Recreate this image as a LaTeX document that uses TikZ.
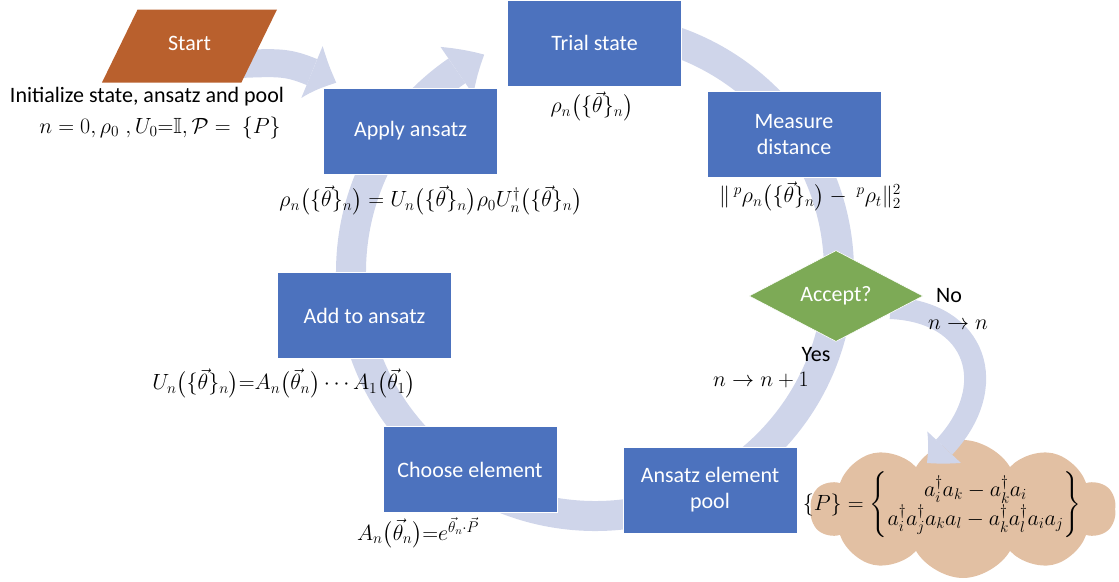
\documentclass[tikz,border=0pt]{standalone}
\usepackage{fix-cm}
\usepackage{amsmath}
\usepackage{amssymb}
\usepackage{fontspec}
\setmainfont{Carlito}
\usetikzlibrary{shapes.geometric,shapes.symbols,arrows.meta,bending,backgrounds}
\definecolor{boxblue}{RGB}{76,114,190}
\definecolor{startorange}{RGB}{185,96,45}
\definecolor{acceptgreen}{RGB}{125,170,86}
\definecolor{ringblue}{RGB}{207,213,234}
\definecolor{cloudtan}{RGB}{226,192,163}
\begin{document}
\begin{tikzpicture}[x=1pt,y=-1pt,
  every node/.style={font=\fontsize{22}{26}\selectfont},
  formula/.style={font=\fontsize{22}{26}\selectfont},
  stage/.style={rectangle,fill=boxblue,draw=white,line width=0.6pt,text=white,
    minimum width=174pt,minimum height=86pt,align=center},
  flow/.style={draw=ringblue,line width=30pt}]
  \useasboundingbox (0,0) rectangle (1119,581);
  % blocks of the loop
  \node[trapezium,trapezium left angle=64,trapezium right angle=116,trapezium stretches body,
    minimum width=175pt,text height=12pt,text depth=4pt,inner xsep=0pt,inner ysep=28.5pt,
    fill=startorange,text=white] (start) at (189.5,46) {Start};
  \node[stage] (trial) at (594.5,43) {Trial state};
  \node[stage] (apply) at (410.5,131) {Apply ansatz};
  \node[stage] (measure) at (794,134.5) {Measure\\distance};
  \node[diamond,aspect=1.9,minimum width=174pt,minimum height=91pt,inner sep=0pt,
    fill=acceptgreen,draw=white,line width=0.6pt,text=white] (accept) at (836,296) {Accept?};
  \node[stage] (add) at (364.5,315.5) {Add to ansatz};
  \node[stage] (choose) at (470,469.5) {Choose element};
  \node[stage] (pool) at (710,490) {Ansatz element\\pool};
  % labels
  \node (init) at (147,97) {Initialize state, ansatz and pool};
  \node[formula] (initmath) at (160,128) {$n=0,\rho_0\;,U_0{=}\mathbb{I},\mathcal{P}=\ \{P\}$};
  \node[formula] (applymath) at (431,200) {$\rho_n\bigl(\{\vec\theta\}_n\bigr)=U_n\bigl(\{\vec\theta\}_n\bigr)\rho_0U_n^\dagger\bigl(\{\vec\theta\}_n\bigr)$};
  \node[formula] (trialmath) at (592,106) {$\rho_n\bigl(\{\vec\theta\}_n\bigr)$};
  \node[formula] (measuremath) at (810,196) {$\|\,{}^{p}\rho_n\bigl(\{\vec\theta\}_n\bigr)-\ {}^{p}\rho_t\|_2^2$};
  \node (no) at (949,296) {No};
  \node[formula] (nomath) at (958,325) {$n\to n$};
  \node (yes) at (816,355) {Yes};
  \node[formula] (yesmath) at (761,380) {$n\to n+1$};
  \node[formula] (addmath) at (284,383) {$U_n\bigl(\{\vec\theta\}_n\bigr){=}A_n\bigl(\vec\theta_n\bigr)\cdots A_1\bigl(\vec\theta_1\bigr)$};
  \node[formula] (choosemath) at (418,533) {$A_n\bigl(\vec\theta_n\bigr){=}e^{\vec\theta_n\cdot\vec P}$};
  \node[formula] (poolmath) at (942,505) {$\{P\}=\left\{\begin{matrix}a_i^\dagger a_k-a_k^\dagger a_i\\
    a_i^\dagger a_j^\dagger a_k a_l-a_k^\dagger a_l^\dagger a_i a_j\end{matrix}\right\}$};
  % big arrows behind the blocks
  \begin{scope}[on background layer]
    \node[cloud,cloud puffs=10,cloud puff arc=120,aspect=2.2,minimum width=305pt,minimum height=138pt,
      fill=cloudtan] (poolset) at (963,509) {};
    \coordinate (ring) at (595,272);
    \draw[flow,-{Triangle[length=32pt,width=58pt,line width=0pt,bend]}]
      (ring) ++(275:244) arc[start angle=275,end angle=603,radius=244];
    \coordinate (starttip) at ([xshift=13pt,yshift=5pt]apply.north west);
    \draw[flow,line width=28pt,-{Triangle[length=30pt,width=56pt,line width=0pt,bend]}]
      ([xshift=-20pt,yshift=-18pt]start.east) .. controls (290,62) .. (starttip);
    \coordinate (notip) at (927,463);
    \draw[flow,line width=22pt,-{Triangle[length=24pt,width=46pt,line width=0pt,bend]}]
      ([xshift=-33pt,yshift=-12pt]accept.east) .. controls (985,312) and (1005,400) .. (notip);
  \end{scope}
\end{tikzpicture}
\end{document}
